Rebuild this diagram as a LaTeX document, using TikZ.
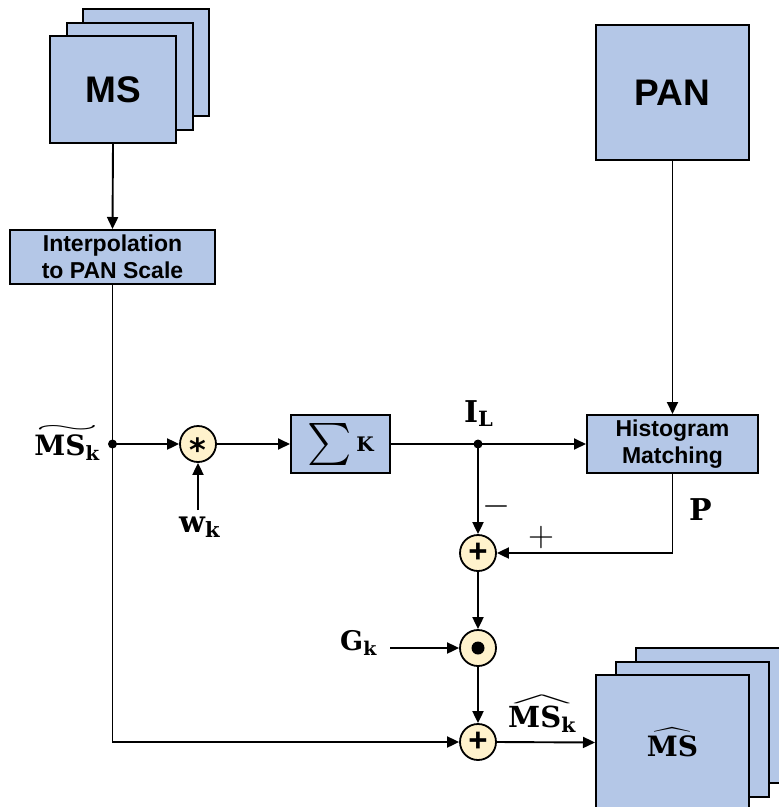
\RequirePackage{fix-cm}
\documentclass[tikz,border=0pt]{standalone}
\usepackage{fontspec}
\setsansfont{Liberation Sans}
\newfontfamily\labfont{DejaVu Serif}
\newfontfamily\symsans{DejaVu Sans}
\usepackage{amsmath}
\usetikzlibrary{arrows.meta}
\definecolor{boxblue}{HTML}{B4C7E7}
\definecolor{opfill}{HTML}{FFF2CC}
\newlength\acclen
\newcommand{\bl}[1]{\text{\labfont\bfseries #1}}
\newcommand{\wideacc}[3]{% #1 accent, #2 accent height, #3 content
  \settowidth{\acclen}{$#3$}%
  \mathord{\vbox{\offinterlineskip\halign{\hfil##\hfil\cr
    \resizebox{\acclen}{#2}{$#1$}\cr\noalign{\kern2pt}
    $#3$\cr}}}}
\begin{document}
\begin{tikzpicture}[x=1pt,y=-1pt,
  blk/.style={draw=black, line width=2pt, fill=boxblue, inner sep=0pt},
  txtblk/.style={blk, font=\sffamily\bfseries\fontsize{23}{27}\selectfont, align=center},
  op/.style={circle, draw=black, line width=1.8pt, fill=opfill, minimum size=36pt, inner sep=0pt},
  conn/.style={line width=1.9pt},
  arr/.style={conn, -{Triangle[length=12pt,width=11pt]}},
  mlab/.style={inner sep=0pt, font=\fontsize{28}{30}\selectfont}]
\clip (0,0) rectangle (779,807);
% MS stack
\node[blk, minimum width=126pt, minimum height=107pt] (ms3) at (145.5,62.5) {};
\node[blk, minimum width=126pt, minimum height=107pt] (ms2) at (129.5,76) {};
\node[blk, minimum width=126pt, minimum height=107pt, font=\sffamily\bfseries\fontsize{37}{40}\selectfont] (ms) at (113,89.5) {MS};
% interpolation
\node[txtblk, minimum width=205pt, minimum height=54pt] (interp) at (112.5,257) {Interpolation\\to PAN Scale};
% PAN
\node[blk, minimum width=153pt, minimum height=135pt, font=\sffamily\bfseries\fontsize{37}{40}\selectfont] (pan) at (672.5,92.5) {PAN};
% sum
\node[blk, minimum width=99pt, minimum height=58pt, font=\fontsize{20}{22}\selectfont] (sig) at (340.5,444)
  {$\vcenter{\hbox{\resizebox*{!}{42pt}{$\sum$}}}\hspace{5pt}\vcenter{\hbox{\labfont\bfseries\fontsize{20}{22}\selectfont K}}$};
% histogram
\node[txtblk, minimum width=171pt, minimum height=58pt] (hist) at (672.5,444) {Histogram\\Matching};
% operators
\node[op, font=\symsans\bfseries\fontsize{32}{34}\selectfont] (star) at (198,444) {\raisebox{-0.56em}[0pt][0pt]{*}};
\node[op, font=\sffamily\bfseries\fontsize{33}{35}\selectfont] (plus1) at (478,553) {+};
\node[op] (odot) at (478,648) {};
\fill (odot.center) circle (6.5pt);
\node[op, font=\sffamily\bfseries\fontsize{33}{35}\selectfont] (plus2) at (478,742) {+};
% MS hat stack
\node[blk, minimum width=153pt, minimum height=135pt] (mh3) at (712.5,715.5) {};
\node[blk, minimum width=153pt, minimum height=135pt] (mh2) at (692.5,729) {};
\node[blk, minimum width=153pt, minimum height=135pt, font=\fontsize{28}{30}\selectfont] (mshat) at (672.5,742.5) {$\widehat{\bl{MS}}$};
% junctions
\coordinate (d1) at (112.5,444);
\coordinate (d2) at (478,444);
\coordinate (wks) at (198,510);
\coordinate (gks) at (390,648);
\fill (d1) circle (4.5pt);
\fill (d2) circle (4.5pt);
% labels
\node[mlab, anchor=base east, font=\fontsize{28}{30}\selectfont] (lmst) at (100,455) {$\wideacc{\sim}{7pt}{\bl{MS}_{\bl{k}}}$};
\node[mlab, anchor=base west, font=\fontsize{30}{33}\selectfont] (lil) at (464,422) {$\bl{I}_{\bl{L}}$};
\node[mlab, anchor=base west, font=\fontsize{30}{32}\selectfont] (lp) at (689,520) {$\bl{P}$};
\node[mlab, font=\fontsize{36}{38}\selectfont] (lminus) at (496,506) {$-$};
\node[mlab, font=\fontsize{36}{38}\selectfont] (lplus) at (541,537) {$+$};
\node[mlab, anchor=base west, font=\fontsize{30}{32}\selectfont] (lwk) at (179,532) {$\bl{w}_{\bl{k}}$};
\node[mlab, anchor=base west, font=\fontsize{27}{29}\selectfont] (lgk) at (340,650) {$\bl{G}_{\bl{k}}$};
\node[mlab, anchor=base west, font=\fontsize{29}{31}\selectfont] (lmsh) at (508,727) {$\wideacc{\wedge}{8pt}{\bl{MS}_{\bl{k}}}$};
% connectors
\draw[arr] (ms.south) -- (interp.north);
\draw[arr] (interp.south) -- (interp.south |- plus2) -- (plus2.west);
\draw[arr] (d1) -- (star.west);
\draw[arr] (wks) -- (star.south);
\draw[arr] (star.east) -- (sig.west);
\draw[arr] (sig.east) -- (hist.west);
\draw[arr] (pan.south) -- (hist.north);
\draw[arr] (d2) -- (plus1.north);
\draw[arr] (hist.south) |- (plus1.east);
\draw[arr] (plus1.south) -- (odot.north);
\draw[arr] (gks) -- (odot.west);
\draw[arr] (odot.south) -- (plus2.north);
\draw[arr] (plus2.east) -- (mshat.west);
\end{tikzpicture}
\end{document}
